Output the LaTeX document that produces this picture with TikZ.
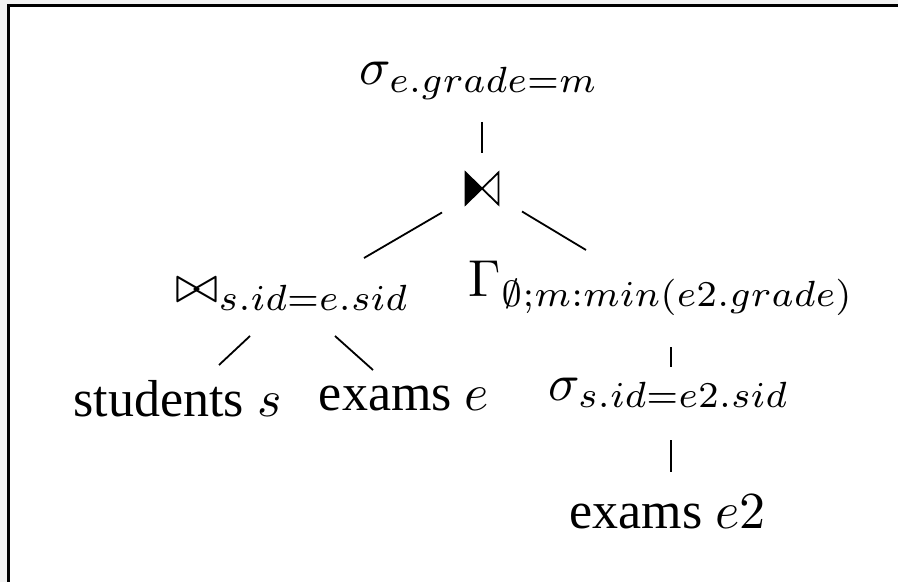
\RequirePackage{fix-cm}
\documentclass[tikz,border=0pt]{standalone}
\usepackage[no-math]{fontspec}
\usepackage{graphicx}
\setmainfont{Liberation Serif}
\usetikzlibrary{calc}
\definecolor{outergray}{HTML}{F2F2F2}
\newcommand{\bigtx}[1]{\scalebox{2.6}{\fontsize{10}{12}\selectfont #1}}
\begin{document}
\begin{tikzpicture}[x=0.5pt,y=-0.5pt,
  lbl/.style={anchor=base, inner sep=0pt},
  conn/.style={line width=0.9pt}]
\useasboundingbox (0,0) rectangle (898,582);
\fill[outergray] (0,0) rectangle (898,582);
\fill[white] (8,6) rectangle (898,582);
\draw[line width=1.5pt] (8,582) -- (8,6) -- (898,6);

% nodes
\node[lbl] (top) at (479,85) {\bigtx{$\sigma_{e.grade=m}$}};
\node[minimum width=16pt, minimum height=15.5pt, inner sep=0pt] (semi) at (482,188.5) {};
\node[lbl] (join) at (292.5,303) {\bigtx{$\bowtie_{s.id=e.sid}$}};
\node[lbl] (gamma) at (661.5,297) {\bigtx{$\Gamma_{\emptyset;m:min(e2.grade)}$}};
\node[lbl] (students) at (177.5,416) {\bigtx{students $s$}};
\node[lbl] (examse) at (404,410) {\bigtx{exams $e$}};
\node[lbl] (sigma2) at (669,400) {\bigtx{$\sigma_{s.id=e2.sid}$}};
\node[lbl] (examse2) at (667.5,528) {\bigtx{exams $e2$}};

% semijoin symbol
\filldraw[line width=0.9pt, line join=miter] (semi.north west) -- (semi.south west) -- (semi.center) -- cycle;
\draw[line width=0.9pt, line join=miter] (semi.north east) -- (semi.south east) -- (semi.center) -- cycle;

% connectors
\draw[conn] ($(top.base)+(3,37)$) -- ($(semi.center)+(0,-35)$);
\draw[conn] ($(semi.center)+(-40,24)$) -- ($(join.base)+(71.5,-45)$);
\draw[conn] ($(semi.center)+(40,23)$) -- ($(gamma.base)+(-75.5,-47)$);
\draw[conn] ($(join.base)+(-42.5,33)$) -- ($(students.base)+(41.5,-51)$);
\draw[conn] ($(join.base)+(42.5,33)$) -- ($(examse.base)+(-31,-40)$);
\draw[conn] ($(gamma.base)+(9.5,50)$) -- ($(sigma2.base)+(2,-33)$);
\draw[conn] ($(sigma2.base)+(2,40)$) -- ($(examse2.base)+(3.5,-56)$);
\end{tikzpicture}
\end{document}
